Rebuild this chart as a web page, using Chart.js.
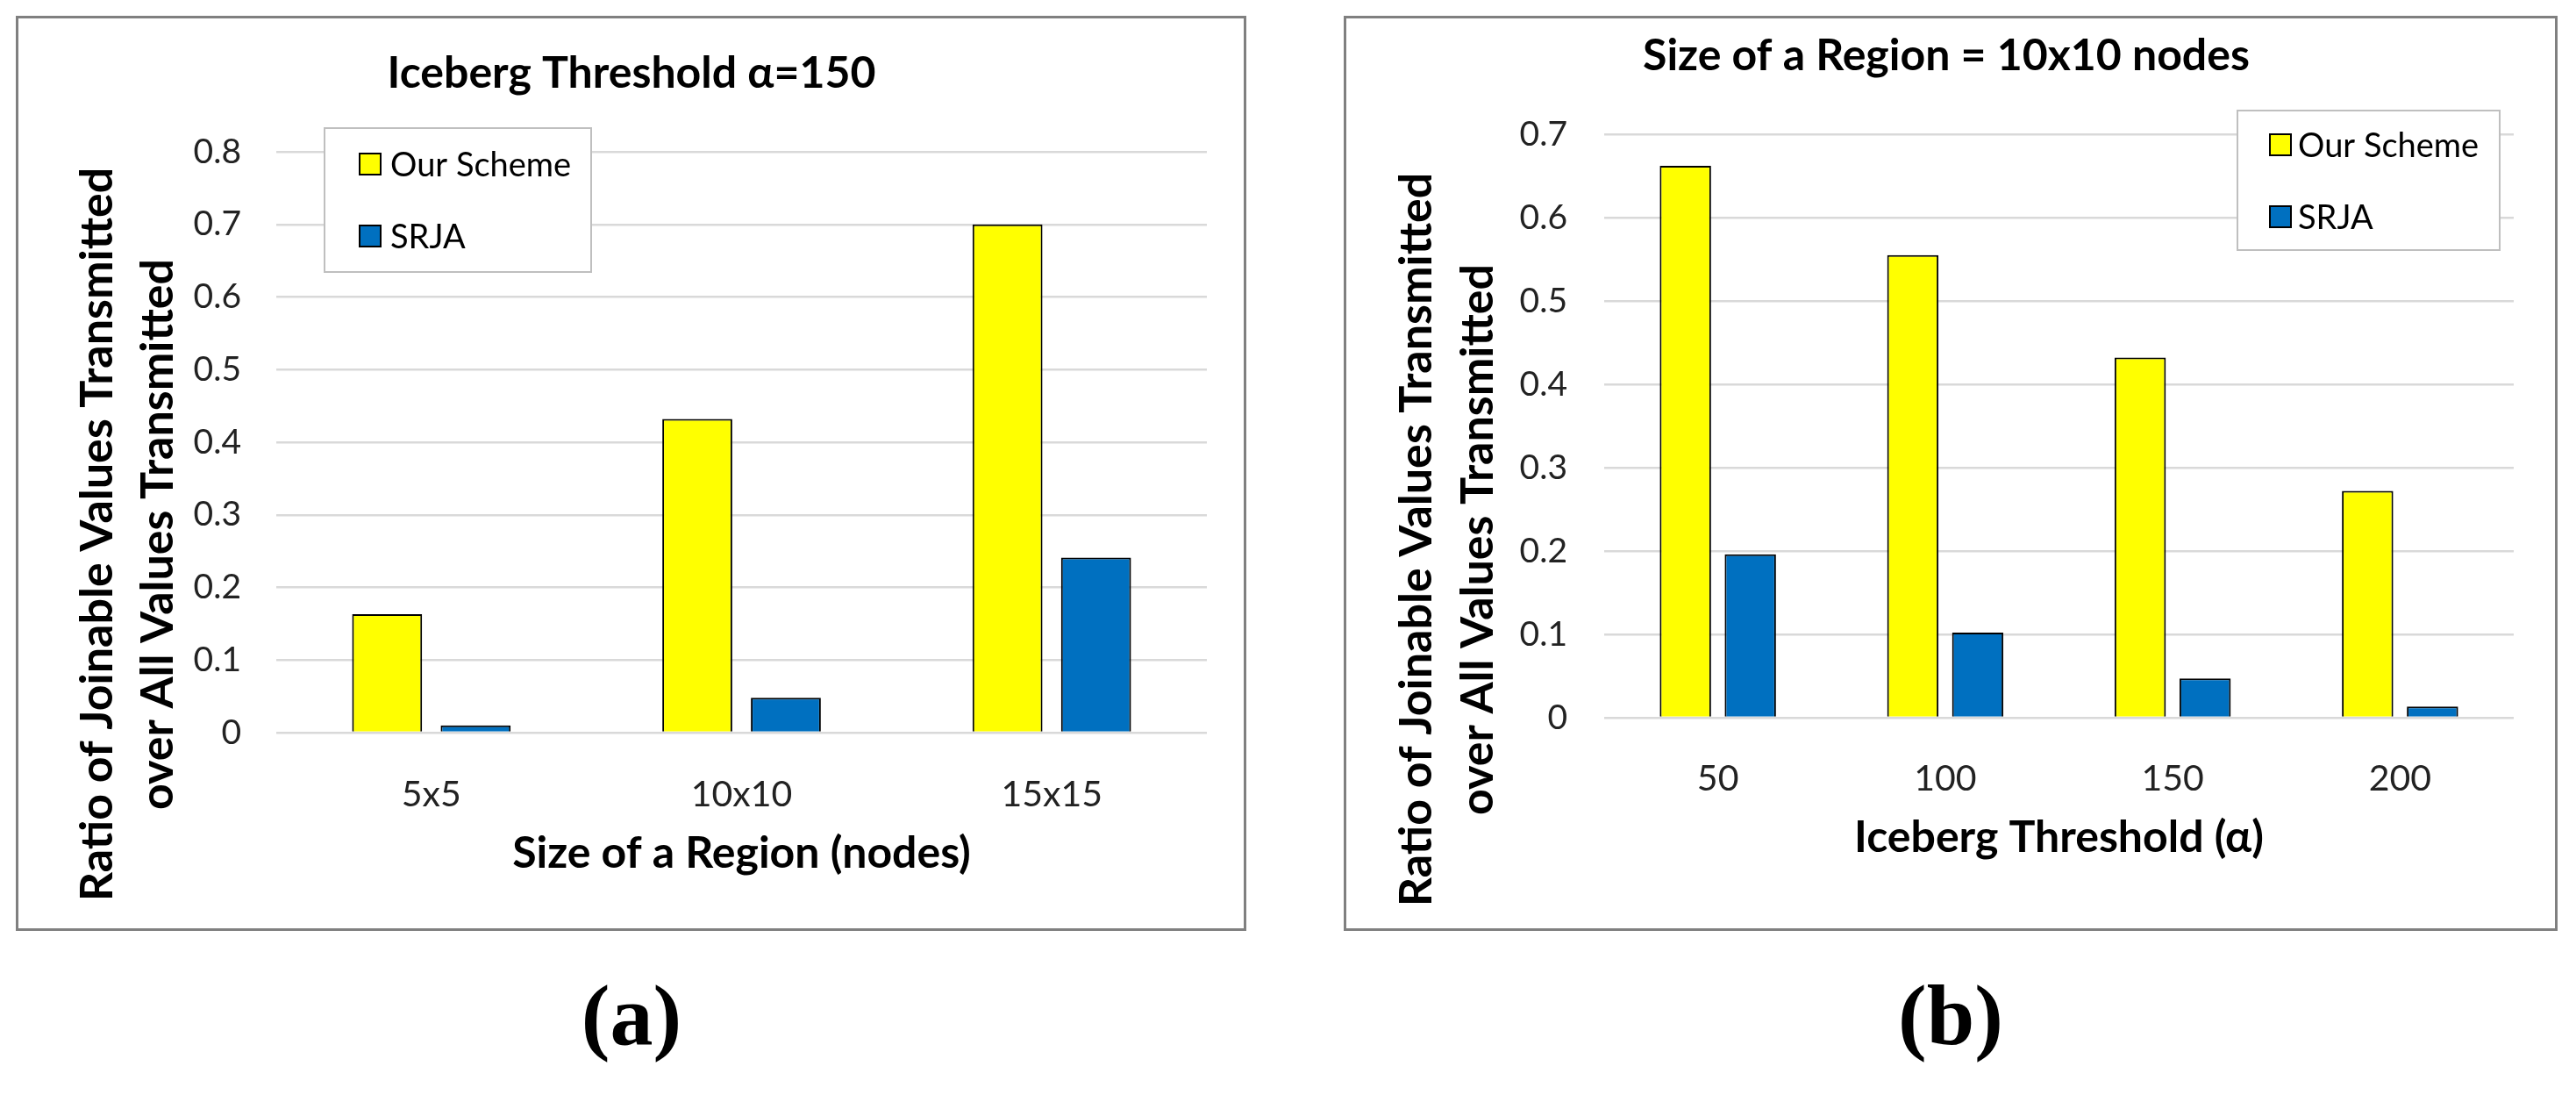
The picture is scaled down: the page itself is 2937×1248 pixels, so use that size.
<!DOCTYPE html>
<html>
<head>
<meta charset="utf-8">
<title>Joinable values ratio</title>
<script src="https://cdn.jsdelivr.net/npm/chart.js@4.4.1/dist/chart.umd.min.js"></script>
<style>
  body { margin: 0; background: #fff; width: 2937px; height: 1248px; position: relative; overflow: hidden; }
  .panel { position: absolute; top: 18px; height: 1043px; border: 3px solid #808080; box-sizing: border-box; background: #fff; }
  .panel canvas { display: block; }
  .caption { position: absolute; top: 1097px; width: 300px; text-align: center;
             font-family: "Liberation Serif", serif; font-weight: bold; font-size: 98px; line-height: 120px; }
</style>
</head>
<body>
<div class="panel" style="left:18px;width:1403px;"><canvas id="chartA" width="1397" height="1037"></canvas></div>
<div class="panel" style="left:1532px;width:1384px;"><canvas id="chartB" width="1378" height="1037"></canvas></div>
<div class="caption" style="left:570px;">(a)</div>
<div class="caption" style="left:2074px;">(b)</div>

<script>
const seriesNames = ['Our Scheme', 'SRJA'];

// (a) iceberg threshold 150, varying region size
const regionSizes = ['5x5', '10x10', '15x15'];
const oursByRegion = [0.163, 0.432, 0.700];
const srjaByRegion = [0.010, 0.048, 0.241];
const yTicksA = [0, 0.1, 0.2, 0.3, 0.4, 0.5, 0.6, 0.7, 0.8];

// (b) region 10x10, varying threshold
const thresholds = ['50', '100', '150', '200'];
const oursByThreshold = [0.662, 0.555, 0.432, 0.272];
const srjaByThreshold = [0.196, 0.102, 0.047, 0.0135];
const yTicksB = [0, 0.1, 0.2, 0.3, 0.4, 0.5, 0.6, 0.7];

const yTitleLines = ['Ratio of Joinable Values Transmitted', 'over All Values Transmitted'];

const FONT = 'Lato';
const YELLOW = '#FFFF00';
const BLUE = '#0070C0';

// title, rotated y title and legend box drawn at fixed spots in the panel
const panelDecor = {
    id: 'panelDecor',
    afterDraw(chart, args, o) {
        const ctx = chart.ctx;
        ctx.save();
        ctx.fillStyle = '#000';
        ctx.textAlign = 'center';
        ctx.textBaseline = 'alphabetic';
        ctx.font = 'bold 50px ' + FONT;
        ctx.fillText(o.title, o.titleX, o.titleBase);

        ctx.font = 'bold 52px ' + FONT;
        o.yTitle.forEach((line, i) => {
            ctx.save();
            ctx.translate(o.yTitleBase[i], o.yTitleMid);
            ctx.rotate(-Math.PI / 2);
            ctx.fillText(line, 0, 0);
            ctx.restore();
        });

        const b = o.legendBox;
        ctx.fillStyle = '#fff';
        ctx.fillRect(b.x, b.y, b.w, b.h);
        ctx.strokeStyle = '#BFBFBF';
        ctx.lineWidth = 2;
        ctx.strokeRect(b.x, b.y, b.w, b.h);
        ctx.font = '38px ' + FONT;
        ctx.textAlign = 'left';
        ctx.textBaseline = 'middle';
        chart.data.datasets.forEach((ds, i) => {
            const cy = b.y + b.first + i * 82;
            ctx.fillStyle = ds.backgroundColor;
            ctx.fillRect(b.x + b.sw, cy - 12, 24, 24);
            ctx.strokeStyle = '#000';
            ctx.lineWidth = 2;
            ctx.strokeRect(b.x + b.sw, cy - 12, 24, 24);
            ctx.fillStyle = '#000';
            ctx.fillText(ds.label, b.x + b.tx, cy + 2);
        });
        ctx.restore();
    }
};

function barSets(ours, srja) {
    return [
        { label: seriesNames[0], data: ours, backgroundColor: YELLOW, borderColor: '#000', borderWidth: 2,
          categoryPercentage: 0.571, barPercentage: 0.79 },
        { label: seriesNames[1], data: srja, backgroundColor: BLUE, borderColor: '#000', borderWidth: 2,
          categoryPercentage: 0.571, barPercentage: 0.79 }
    ];
}

function makeChart(id, labels, ours, srja, yTicks, xTitle, pad, tickPadY, tickPadX, titleBottom, decor) {
    const ctx = document.getElementById(id).getContext('2d');
    return new Chart(ctx, {
        type: 'bar',
        data: { labels: labels, datasets: barSets(ours, srja) },
        options: {
            responsive: false,
            animation: false,
            devicePixelRatio: 1,
            layout: { padding: pad },
            plugins: {
                legend: { display: false },
                title: { display: false },
                tooltip: { enabled: false },
                panelDecor: decor
            },
            scales: {
                x: {
                    grid: { display: false },
                    border: { display: false },
                    ticks: { color: '#222', padding: tickPadX, font: { family: FONT, size: 41 } },
                    title: { display: true, text: xTitle, color: '#000',
                             font: { family: FONT, size: 50, weight: 'bold' },
                             padding: { top: 0, bottom: titleBottom } },
                    afterFit(s) { s.height = 200; }
                },
                y: {
                    min: yTicks[0],
                    max: yTicks[yTicks.length - 1],
                    afterBuildTicks(s) { s.ticks = yTicks.map(v => ({ value: v })); },
                    ticks: { color: '#222', padding: tickPadY, font: { family: FONT, size: 39 },
                             callback: v => String(Math.round(v * 10) / 10) },
                    grid: { color: '#D9D9D9', lineWidth: 2.5, drawTicks: false },
                    border: { display: false },
                    afterFit(s) { s.width = 294; }
                }
            }
        },
        plugins: [panelDecor]
    });
}

Promise.all([
    document.fonts.load('bold 48px Lato'),
    document.fonts.load('38px Lato')
]).catch(() => {}).then(() => {
    makeChart('chartA', regionSizes, oursByRegion, srjaByRegion, yTicksA,
        'Size of a Region (nodes)',
        { top: 152, right: 42, bottom: 23, left: 0 }, 40, 38, 32,
        { title: 'Iceberg Threshold \u03b1=150', titleX: 699, titleBase: 79,
          yTitle: yTitleLines, yTitleBase: [107, 176], yTitleMid: 588,
          legendBox: { x: 349, y: 125, w: 304, h: 164, first: 41, sw: 40, tx: 75 } });

    makeChart('chartB', thresholds, oursByThreshold, srjaByThreshold, yTicksB,
        'Iceberg Threshold (\u03b1)',
        { top: 132, right: 47, bottom: 40, left: 0 }, 42, 37, 33,
        { title: 'Size of a Region = 10x10 nodes', titleX: 684, titleBase: 59,
          yTitle: yTitleLines, yTitleBase: [97, 167], yTitleMid: 594,
          legendBox: { x: 1016, y: 105, w: 299, h: 159, first: 39, sw: 37, tx: 69 } });
});
</script>
</body>
</html>
